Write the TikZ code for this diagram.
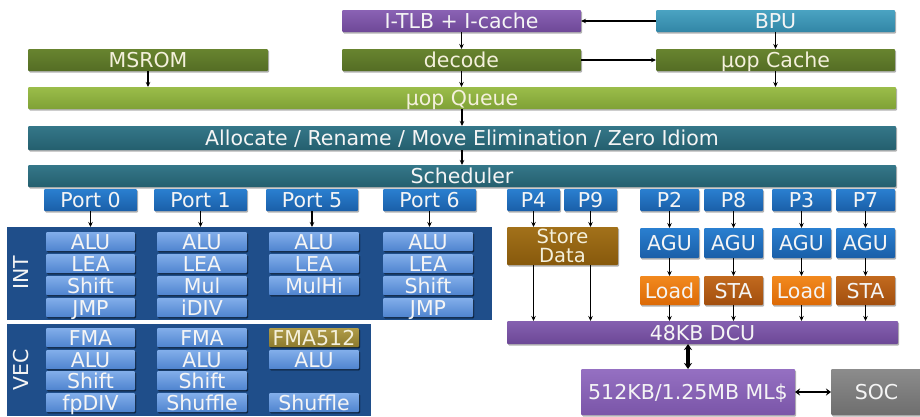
\documentclass[tikz,border=0pt]{standalone}
\usepackage{fontspec}
\setmainfont{DejaVu Sans}
\usetikzlibrary{arrows.meta,shadows}

\definecolor{itlbT}{HTML}{8A62B4}\definecolor{itlbB}{HTML}{6E4897}
\definecolor{bpuT}{HTML}{4AA3C2}\definecolor{bpuB}{HTML}{3286A6}
\definecolor{dgrT}{HTML}{68842F}\definecolor{dgrB}{HTML}{546D24}
\definecolor{lgrT}{HTML}{9BBD4A}\definecolor{lgrB}{HTML}{7FA136}
\definecolor{tealT}{HTML}{357789}\definecolor{tealB}{HTML}{245F6E}
\definecolor{portT}{HTML}{2A7FD0}\definecolor{portB}{HTML}{1A5FA8}
\definecolor{panel}{HTML}{1F4E8A}
\definecolor{unitT}{HTML}{82AEEA}\definecolor{unitB}{HTML}{4F84CF}
\definecolor{goldT}{HTML}{B09C48}\definecolor{goldB}{HTML}{8C7A2E}
\definecolor{sdT}{HTML}{A2711A}\definecolor{sdB}{HTML}{87590C}
\definecolor{loadT}{HTML}{F2891E}\definecolor{loadB}{HTML}{DC6A06}
\definecolor{staT}{HTML}{C26A1E}\definecolor{staB}{HTML}{A24E0E}
\definecolor{dcuT}{HTML}{8560B0}\definecolor{dcuB}{HTML}{6C4896}
\definecolor{mlT}{HTML}{9570C2}\definecolor{mlB}{HTML}{7A55A8}
\definecolor{socT}{HTML}{8C8C8C}\definecolor{socB}{HTML}{6E6E6E}
\definecolor{cream}{HTML}{F4F0DC}

% place a block by its corner coordinates: name, style, x1, y1, x2, y2, text
\newcommand\blk[7]{\node[#2, anchor=north west,
  minimum width={(#5-#3)*1pt}, minimum height={(#6-#4)*1pt}] (#1) at (#3,#4) {#7};}

\begin{document}
\begin{tikzpicture}[x=1pt,y=-1pt,
  base/.style={rectangle, inner sep=0pt, outer sep=0pt, rounded corners=1pt,
    font=\fontsize{20.5}{18}\selectfont, text=white!96!black,
    drop shadow={shadow xshift=1.2pt, shadow yshift=-1.5pt, opacity=0.3, fill=black}},
  oneline/.style={base, text height=15pt, text depth=0pt},
  itlb/.style={oneline, top color=itlbT, bottom color=itlbB},
  bpu/.style={oneline, top color=bpuT, bottom color=bpuB},
  dgreen/.style={oneline, top color=dgrT, bottom color=dgrB, text=cream},
  lgreen/.style={oneline, top color=lgrT, bottom color=lgrB, text=cream},
  teal/.style={oneline, top color=tealT, bottom color=tealB},
  port/.style={oneline, top color=portT, bottom color=portB},
  unit/.style={oneline, top color=unitT, bottom color=unitB,
    drop shadow={shadow xshift=1pt, shadow yshift=-1pt, opacity=0.35, fill=black}},
  gold/.style={unit, top color=goldT, bottom color=goldB, text=cream},
  stdata/.style={base, align=center, font=\fontsize{19.5}{19.5}\selectfont,
    top color=sdT, bottom color=sdB, text=cream},
  load/.style={oneline, top color=loadT, bottom color=loadB},
  sta/.style={oneline, top color=staT, bottom color=staB},
  dcu/.style={oneline, top color=dcuT, bottom color=dcuB},
  mlc/.style={oneline, top color=mlT, bottom color=mlB},
  soc/.style={oneline, top color=socT, bottom color=socB},
  panelbox/.style={rectangle, inner sep=0pt, outer sep=0pt, fill=panel},
  sidelabel/.style={rotate=90, font=\fontsize{20.5}{18}\selectfont, text=white!96!black},
  arr/.style={-{Stealth[length=5pt,width=4.5pt]}, line width=1.1pt, black},
  bigarr/.style={{Stealth[length=6pt,width=8pt]}-{Stealth[length=6pt,width=8pt]}, line width=3.2pt, black},
]
\useasboundingbox (0,0) rectangle (920,416);

% front end
\blk{itlb}{itlb}{342}{10}{581}{32}{I-TLB + I-cache}
\blk{bpu}{bpu}{656}{10}{895}{32}{BPU}
\blk{msrom}{dgreen}{28}{49}{268}{71}{MSROM}
\blk{decode}{dgreen}{342}{49}{581}{71}{decode}
\blk{uopc}{dgreen}{656}{49}{895}{71}{µop Cache}
\blk{uopq}{lgreen}{28}{87}{896}{109}{µop Queue}
\blk{alloc}{teal}{28}{126}{896}{150}{Allocate / Rename / Move Elimination / Zero Idiom}
\blk{sched}{teal}{28}{165}{896}{187}{Scheduler}

% ports
\blk{p0}{port}{44}{189}{137}{211}{Port 0}
\blk{p1}{port}{154}{189}{247}{211}{Port 1}
\blk{p5}{port}{266}{189}{358}{211}{Port 5}
\blk{p6}{port}{383}{189}{476}{211}{Port 6}
\blk{p4}{port}{507}{189}{560}{211}{P4}
\blk{p9}{port}{564}{189}{617}{211}{P9}
\blk{p2}{port}{640}{189}{699}{211}{P2}
\blk{p8}{port}{704}{189}{763}{211}{P8}
\blk{p3}{port}{772}{189}{831}{211}{P3}
\blk{p7}{port}{836}{189}{895}{211}{P7}

% execution panels
\blk{intp}{panelbox}{7}{227}{492}{320}{}
\blk{vecp}{panelbox}{7}{324}{371}{416}{}
\node[sidelabel] (intl) at (21,273) {INT};
\node[sidelabel] (vecl) at (21,370) {VEC};

% integer units
\blk{i11}{unit}{46}{232}{135}{251}{ALU}
\blk{i12}{unit}{46}{254}{135}{273}{LEA}
\blk{i13}{unit}{46}{276}{135}{295}{Shift}
\blk{i14}{unit}{46}{298}{135}{317}{JMP}
\blk{i21}{unit}{157}{232}{247}{251}{ALU}
\blk{i22}{unit}{157}{254}{247}{273}{LEA}
\blk{i23}{unit}{157}{276}{247}{295}{Mul}
\blk{i24}{unit}{157}{298}{247}{317}{iDIV}
\blk{i31}{unit}{269}{232}{359}{251}{ALU}
\blk{i32}{unit}{269}{254}{359}{273}{LEA}
\blk{i33}{unit}{269}{276}{359}{295}{MulHi}
\blk{i41}{unit}{383}{232}{473}{251}{ALU}
\blk{i42}{unit}{383}{254}{473}{273}{LEA}
\blk{i43}{unit}{383}{276}{473}{295}{Shift}
\blk{i44}{unit}{383}{298}{473}{317}{JMP}

% vector units
\blk{v11}{unit}{46}{328}{135}{347}{FMA}
\blk{v12}{unit}{46}{350}{135}{369}{ALU}
\blk{v13}{unit}{46}{371}{135}{390}{Shift}
\blk{v14}{unit}{46}{393}{135}{412}{fpDIV}
\blk{v21}{unit}{157}{328}{247}{347}{FMA}
\blk{v22}{unit}{157}{350}{247}{369}{ALU}
\blk{v23}{unit}{157}{371}{247}{390}{Shift}
\blk{v24}{unit}{157}{393}{247}{412}{Shuffle}
\blk{v31}{gold}{269}{328}{359}{347}{FMA512}
\blk{v32}{unit}{269}{350}{359}{369}{ALU}
\blk{v34}{unit}{269}{393}{359}{412}{Shuffle}

% memory pipeline
\blk{sd}{stdata}{507}{227}{618}{265}{Store\\Data}
\blk{agu2}{port}{640}{228}{699}{258}{AGU}
\blk{agu8}{port}{704}{228}{763}{258}{AGU}
\blk{agu3}{port}{772}{228}{831}{258}{AGU}
\blk{agu7}{port}{836}{228}{895}{258}{AGU}
\blk{ld2}{load}{640}{276}{699}{305}{Load}
\blk{st8}{sta}{704}{276}{763}{305}{STA}
\blk{ld3}{load}{772}{276}{831}{305}{Load}
\blk{st7}{sta}{836}{276}{895}{305}{STA}
\blk{dcu}{dcu}{507}{321}{898}{344}{48KB DCU}
\blk{ml}{mlc}{581}{369}{795}{415}{512KB/1.25MB ML\$}
\blk{soc}{soc}{831}{369}{922}{415}{SOC}

% front-end connectors
\draw[arr] (bpu.west) -- (itlb.east);
\draw[arr] (decode.east) -- (uopc.west);
\draw[arr] (itlb.south) -- (decode.north);
\draw[arr] (bpu.south) -- (uopc.north);
\draw[arr] (msrom.south) -- (msrom.south |- uopq.north);
\draw[arr] (decode.south) -- (decode.south |- uopq.north);
\draw[arr] (uopc.south) -- (uopc.south |- uopq.north);
\draw[arr] (uopq.south) -- (alloc.north);
\draw[arr] (alloc.south) -- (sched.north);

% ports to execution units
\foreach \p in {p0,p1,p5,p6}
  \draw[arr] (\p.south) -- (\p.south |- intp.north);
\foreach \p in {p4,p9}{
  \draw[arr] (\p.south) -- (\p.south |- sd.north);
  \draw[arr] (\p.south |- sd.south) -- (\p.south |- dcu.north);
}
\foreach \p/\a/\l in {p2/agu2/ld2,p8/agu8/st8,p3/agu3/ld3,p7/agu7/st7}{
  \draw[arr] (\p.south) -- (\a.north);
  \draw[arr] (\a.south) -- (\l.north);
  \draw[arr] (\l.south) -- (\l.south |- dcu.north);
}

% cache hierarchy
\draw[bigarr] (dcu.south -| ml.north) -- (ml.north);
\draw[{Stealth[length=5pt,width=7pt]}-{Stealth[length=5pt,width=7pt]}, line width=2.6pt] (ml.east) -- (soc.west);
\end{tikzpicture}
\end{document}
